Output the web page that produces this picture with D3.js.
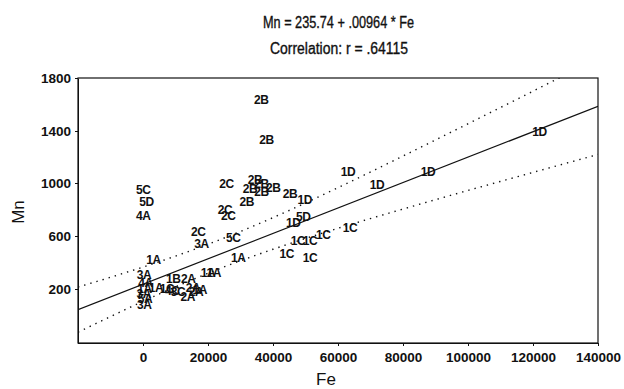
<!DOCTYPE html>
<html lang="en">
<head>
    <meta charset="UTF-8">
    <title>Mn vs Fe</title>
    <script src="https://cdn.jsdelivr.net/npm/d3@7/dist/d3.min.js"></script>
</head>
<body>
<style>
    body {
        margin: 0;
        background-color: white;
    }

    svg * {
        font-family: "Liberation Sans", Arial, sans-serif;
    }

    .axis path,
    .axis line {
        fill: none;
        stroke: #111;
        shape-rendering: crispEdges;
    }

    .axis text {
        font-size: 13.5px;
        font-weight: 700;
        fill: #111;
    }

    .pt {
        font-size: 12px;
        font-weight: 700;
        fill: #111;
        letter-spacing: -0.4px;
    }

    .ttl {
        font-size: 16px;
        fill: #111;
        stroke: #111;
        stroke-width: 0.35px;
    }
</style>

<svg width="624" height="389"></svg>

<script>
    // sample labels and values
    var labels = ["1D", "1D", "1D", "1D", "2B", "1D", "5D", "1D", "1C", "1C",
        "1C", "1C", "1C", "1C", "2B", "2B", "2C", "2B", "2B", "2B",
        "2B", "2B", "2B", "2C", "2C", "5C", "5D", "4A", "2C", "3A",
        "5C", "1A", "1A", "1A", "1A", "3A", "4A", "1A", "3A", "5A",
        "3A", "1B", "2A", "1A", "1C", "4C", "3C", "2A", "2A", "2A", "1A"];
    var fe = [122000, 87700, 72000, 63100, 45200, 49800, 49300, 46200, 47700, 51400,
        55500, 63700, 44200, 51400, 36400, 38000, 25700, 34500, 36500, 40100,
        32900, 36500, 31900, 25200, 26200, 100, 1100, 100, 17000, 18000,
        27800, 3200, 29300, 20000, 21800, 300, 800, 500, 200, 600,
        400, 9300, 13900, 4000, 7400, 9000, 10800, 15400, 16300, 13800, 17500];
    var mn = [1393, 1089, 989, 1089, 925, 880, 748, 703, 566, 564,
        615, 668, 465, 440, 1633, 1330, 1001, 1026, 1001, 971,
        958, 938, 862, 799, 753, 951, 862, 756, 634, 541,
        589, 420, 437, 324, 324, 306, 245, 200, 162, 124,
        79, 281, 281, 208, 200, 185, 178, 208, 177, 140, 193];

    // regression from the title, and the dotted bands
    var intercept = 235.74;
    var slope = 0.00964;
    var bandFe = [-20000, 0, 20000, 40000, 60000, 80000, 100000, 120000, 140000];
    var bandUpper = [214, 366, 539, 741, 968, 1208, 1453, 1700, 1950];
    var bandLower = [-128, 106, 319, 501, 660, 806, 947, 1084, 1220];

    var xTicks = [0, 20000, 40000, 60000, 80000, 100000, 120000, 140000];
    var yTicks = [200, 600, 1000, 1400, 1800];

    var svg = d3.select("svg");
    var padL = 78, padR = 598, padT = 78, padB = 343;

    var getX = d3.scaleLinear()
            .domain([-20000, 140000])
            .range([padL, padR]);
    var getY = d3.scaleLinear()
            .domain([-210, 1800])
            .range([padB, padT]);

    // title
    svg.append("text")
            .attr("class", "ttl")
            .text("Mn = 235.74 + .00964 * Fe")
            .attr("x", 263)
            .attr("y", 28)
            .attr("textLength", 151)
            .attr("lengthAdjust", "spacingAndGlyphs");
    svg.append("text")
            .attr("class", "ttl")
            .text("Correlation: r = .64115")
            .attr("x", 270)
            .attr("y", 54)
            .attr("textLength", 138)
            .attr("lengthAdjust", "spacingAndGlyphs");

    // axes
    svg.append("g")
            .attr("class", "axis")
            .attr("transform", "translate(0," + padB + ")")
            .call(d3.axisBottom(getX).tickValues(xTicks).tickSize(3).tickSizeOuter(0).tickPadding(6).tickFormat(d3.format("d")));
    svg.append("g")
            .attr("class", "axis")
            .attr("transform", "translate(" + padL + ",0)")
            .call(d3.axisLeft(getY).tickValues(yTicks).tickSize(3).tickSizeOuter(0).tickPadding(4).tickFormat(d3.format("d")));
    svg.append("rect")
            .attr("x", padL)
            .attr("y", padT)
            .attr("width", padR - padL)
            .attr("height", padB - padT)
            .attr("fill", "none")
            .attr("stroke", "#111")
            .attr("stroke-width", 1.2);

    // axis titles
    svg.append("text")
            .text("Fe")
            .attr("x", 326)
            .attr("y", 385)
            .attr("text-anchor", "middle")
            .style("font-size", "17px")
            .style("fill", "#111");
    svg.append("text")
            .text("Mn")
            .attr("transform", "translate(24,212) rotate(-90)")
            .attr("text-anchor", "middle")
            .style("font-size", "17px")
            .style("fill", "#111");

    svg.append("clipPath")
            .attr("id", "plotClip")
            .append("rect")
            .attr("x", padL)
            .attr("y", padT)
            .attr("width", padR - padL)
            .attr("height", padB - padT);

    var plot = svg.append("g").attr("clip-path", "url(#plotClip)");

    // regression line
    plot.append("line")
            .attr("x1", getX(-20000))
            .attr("y1", getY(intercept + slope * -20000))
            .attr("x2", getX(140000))
            .attr("y2", getY(intercept + slope * 140000))
            .attr("stroke", "#111")
            .attr("stroke-width", 1.2);

    // confidence bands
    var band = d3.line()
            .x(function (d) {
                return getX(d[0]);
            })
            .y(function (d) {
                return getY(d[1]);
            })
            .curve(d3.curveNatural);
    [bandUpper, bandLower].forEach(function (vals) {
        plot.append("path")
                .attr("d", band(bandFe.map(function (f, i) {
                    return [f, vals[i]];
                })))
                .attr("fill", "none")
                .attr("stroke", "#111")
                .attr("stroke-width", 1.4)
                .attr("stroke-dasharray", "1.4,5");
    });

    // point labels
    plot.selectAll(".pt")
            .data(labels)
            .enter()
            .append("text")
            .attr("class", "pt")
            .attr("x", function (d, i) {
                return getX(fe[i]);
            })
            .attr("y", function (d, i) {
                return getY(mn[i]);
            })
            .attr("text-anchor", "middle")
            .attr("dy", "0.36em")
            .text(function (d) {
                return d;
            });
</script>
</body>
</html>
